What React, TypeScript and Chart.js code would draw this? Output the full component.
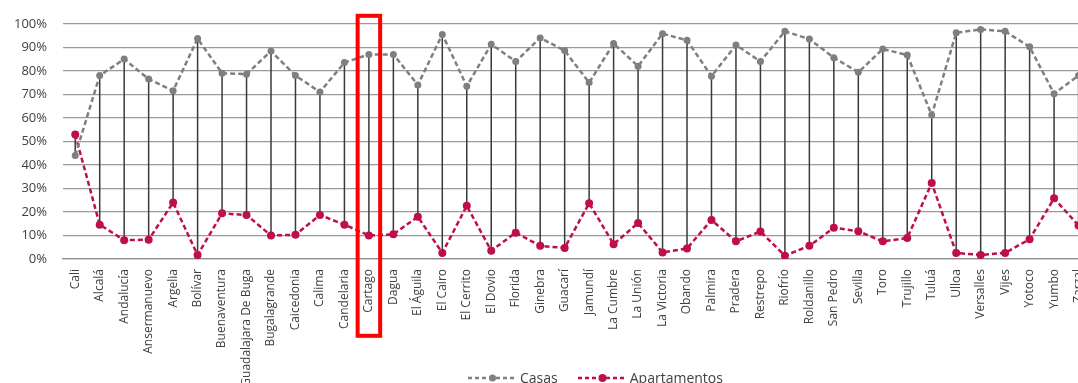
import React, { useEffect, useRef } from "react";
import { Chart, registerables } from "chart.js";

Chart.register(...registerables);

const categories = [
  "Cali", "Alcalá", "Andalucía", "Ansermanuevo", "Argelia", "Bolívar", "Buenaventura",
  "Guadalajara De Buga", "Bugalagrande", "Caicedonia", "Calima", "Candelaria", "Cartago",
  "Dagua", "El Águila", "El Cairo", "El Cerrito", "El Dovio", "Florida", "Ginebra", "Guacarí",
  "Jamundí", "La Cumbre", "La Unión", "La Victoria", "Obando", "Palmira", "Pradera",
  "Restrepo", "Riofrío", "Roldanillo", "San Pedro", "Sevilla", "Toro", "Trujillo", "Tuluá",
  "Ulloa", "Versalles", "Vijes", "Yotoco", "Yumbo", "Zarzal",
];

const casas = [
  44, 78, 85, 76.5, 71.5, 93.7, 79, 78.6, 88.4, 78, 71, 83.5, 87, 87, 74, 95.5, 73.5, 91.3,
  84, 94, 88.6, 75, 91.6, 82, 95.8, 93, 77.7, 91, 84, 96.8, 93.5, 85.6, 79.4, 89.3, 86.7,
  61.2, 96.2, 97.6, 96.8, 90.2, 70.3, 78,
];

const apartamentos = [
  52.9, 14.6, 8, 8.2, 24, 1.7, 19.4, 18.7, 10, 10.3, 18.7, 14.6, 10, 10.5, 18, 2.6, 22.6, 3.5,
  11.2, 5.6, 4.7, 23.7, 6.3, 15.3, 2.8, 4.5, 16.6, 7.5, 11.7, 1.4, 5.6, 13.3, 11.8, 7.5, 8.9,
  32.3, 2.6, 1.7, 2.6, 8.4, 25.8, 14.2,
];

const yTicks = [0, 10, 20, 30, 40, 50, 60, 70, 80, 90, 100];
const seriesNames = ["Casas", "Apartamentos"];
const highlight = "Cartago";

const GRAY = "#7f7f7f";
const RED = "#be0f4a";
const FONT = "'Open Sans', 'Liberation Sans', sans-serif";

const hiLoPlugin = {
  id: "hiLo",
  beforeDatasetsDraw(chart: any) {
    const { ctx } = chart;
    const m0 = chart.getDatasetMeta(0);
    const m1 = chart.getDatasetMeta(1);
    ctx.save();
    ctx.strokeStyle = "#3a3a3a";
    ctx.lineWidth = 1.5;
    m0.data.forEach((p: any, i: number) => {
      const q = m1.data[i];
      if (!q) return;
      ctx.beginPath();
      ctx.moveTo(p.x, p.y);
      ctx.lineTo(q.x, q.y);
      ctx.stroke();
    });
    ctx.restore();
  },
};

const boxPlugin = {
  id: "boxHighlight",
  afterDraw(chart: any) {
    const idx = categories.indexOf(highlight);
    if (idx < 0) return;
    const xs = chart.scales.x;
    const cx = xs.getPixelForValue(idx);
    const half = (xs.getPixelForValue(1) - xs.getPixelForValue(0)) * 0.46;
    const { ctx } = chart;
    ctx.save();
    ctx.strokeStyle = "#ff0000";
    ctx.lineWidth = 4;
    ctx.strokeRect(cx - half, chart.chartArea.top - 8, half * 2, 320);
    ctx.restore();
  },
};

function LegendItem({ color, label, r }: { color: string; label: string; r: number }) {
  return (
    <span style={{ display: "inline-flex", alignItems: "center" }}>
      <svg width="49" height="12" style={{ marginRight: 3 }}>
        <line x1="0" y1="6" x2="49" y2="6" stroke={color} strokeWidth="2.5" strokeDasharray="4,3" />
        <circle cx="24.5" cy="6" r={r} fill={color} />
      </svg>
      <span>{label}</span>
    </span>
  );
}

export default function App() {
  const ref = useRef<HTMLCanvasElement>(null);

  useEffect(() => {
    if (!ref.current) return;
    const chart = new Chart(ref.current, {
      type: "line",
      data: {
        labels: categories,
        datasets: [
          {
            label: seriesNames[0],
            data: casas,
            borderColor: GRAY,
            backgroundColor: GRAY,
            borderWidth: 2.5,
            borderDash: [5, 3],
            pointRadius: 3.5,
            pointBorderWidth: 0,
            pointBackgroundColor: GRAY,
            tension: 0,
          },
          {
            label: seriesNames[1],
            data: apartamentos,
            borderColor: RED,
            backgroundColor: RED,
            borderWidth: 2.5,
            borderDash: [5, 3],
            pointRadius: 4,
            pointBorderWidth: 0,
            pointBackgroundColor: RED,
            tension: 0,
          },
        ],
      },
      options: {
        animation: false,
        responsive: false,
        maintainAspectRatio: false,
        layout: { padding: { top: 20, left: 0, right: 0, bottom: 0 } },
        plugins: {
          legend: { display: false },
          tooltip: { enabled: false },
        },
        scales: {
          x: {
            type: "category",
            offset: true,
            grid: { display: false, drawTicks: false },
            border: { display: true, color: "#8c8c8c", width: 1.2 },
            ticks: {
              autoSkip: false,
              minRotation: 90,
              maxRotation: 90,
              padding: 10,
              color: "#404040",
              font: { family: FONT, size: 12 },
            },
            afterFit(scale: any) {
              scale.height = 383 - 259;
            },
          },
          y: {
            min: 0,
            max: 100,
            afterBuildTicks(scale: any) {
              scale.ticks = yTicks.map((v) => ({ value: v }));
            },
            grid: { color: "#9a9a9a", lineWidth: 1.2, drawTicks: false },
            border: { display: false },
            ticks: {
              padding: 16,
              color: "#404040",
              font: { family: FONT, size: 13 },
              callback: (v: any) => `${v}%`,
            },
            afterFit(scale: any) {
              scale.width = 63;
            },
          },
        },
      },
      plugins: [hiLoPlugin, boxPlugin],
    } as any);
    return () => chart.destroy();
  }, []);

  return (
    <div
      style={{
        position: "fixed",
        left: 0,
        top: 0,
        width: 1078,
        height: 383,
        overflow: "hidden",
        background: "#fff",
      }}
    >
      <canvas ref={ref} width={1103} height={383} style={{ display: "block" }} />
      <div
        style={{
          position: "absolute",
          left: 468,
          top: 368,
          fontFamily: FONT,
          fontSize: 14,
          color: "#404040",
          display: "flex",
          gap: 20,
          lineHeight: "20px",
          whiteSpace: "nowrap",
        }}
      >
        <LegendItem color={GRAY} label={seriesNames[0]} r={3.5} />
        <LegendItem color={RED} label={seriesNames[1]} r={4} />
      </div>
    </div>
  );
}
